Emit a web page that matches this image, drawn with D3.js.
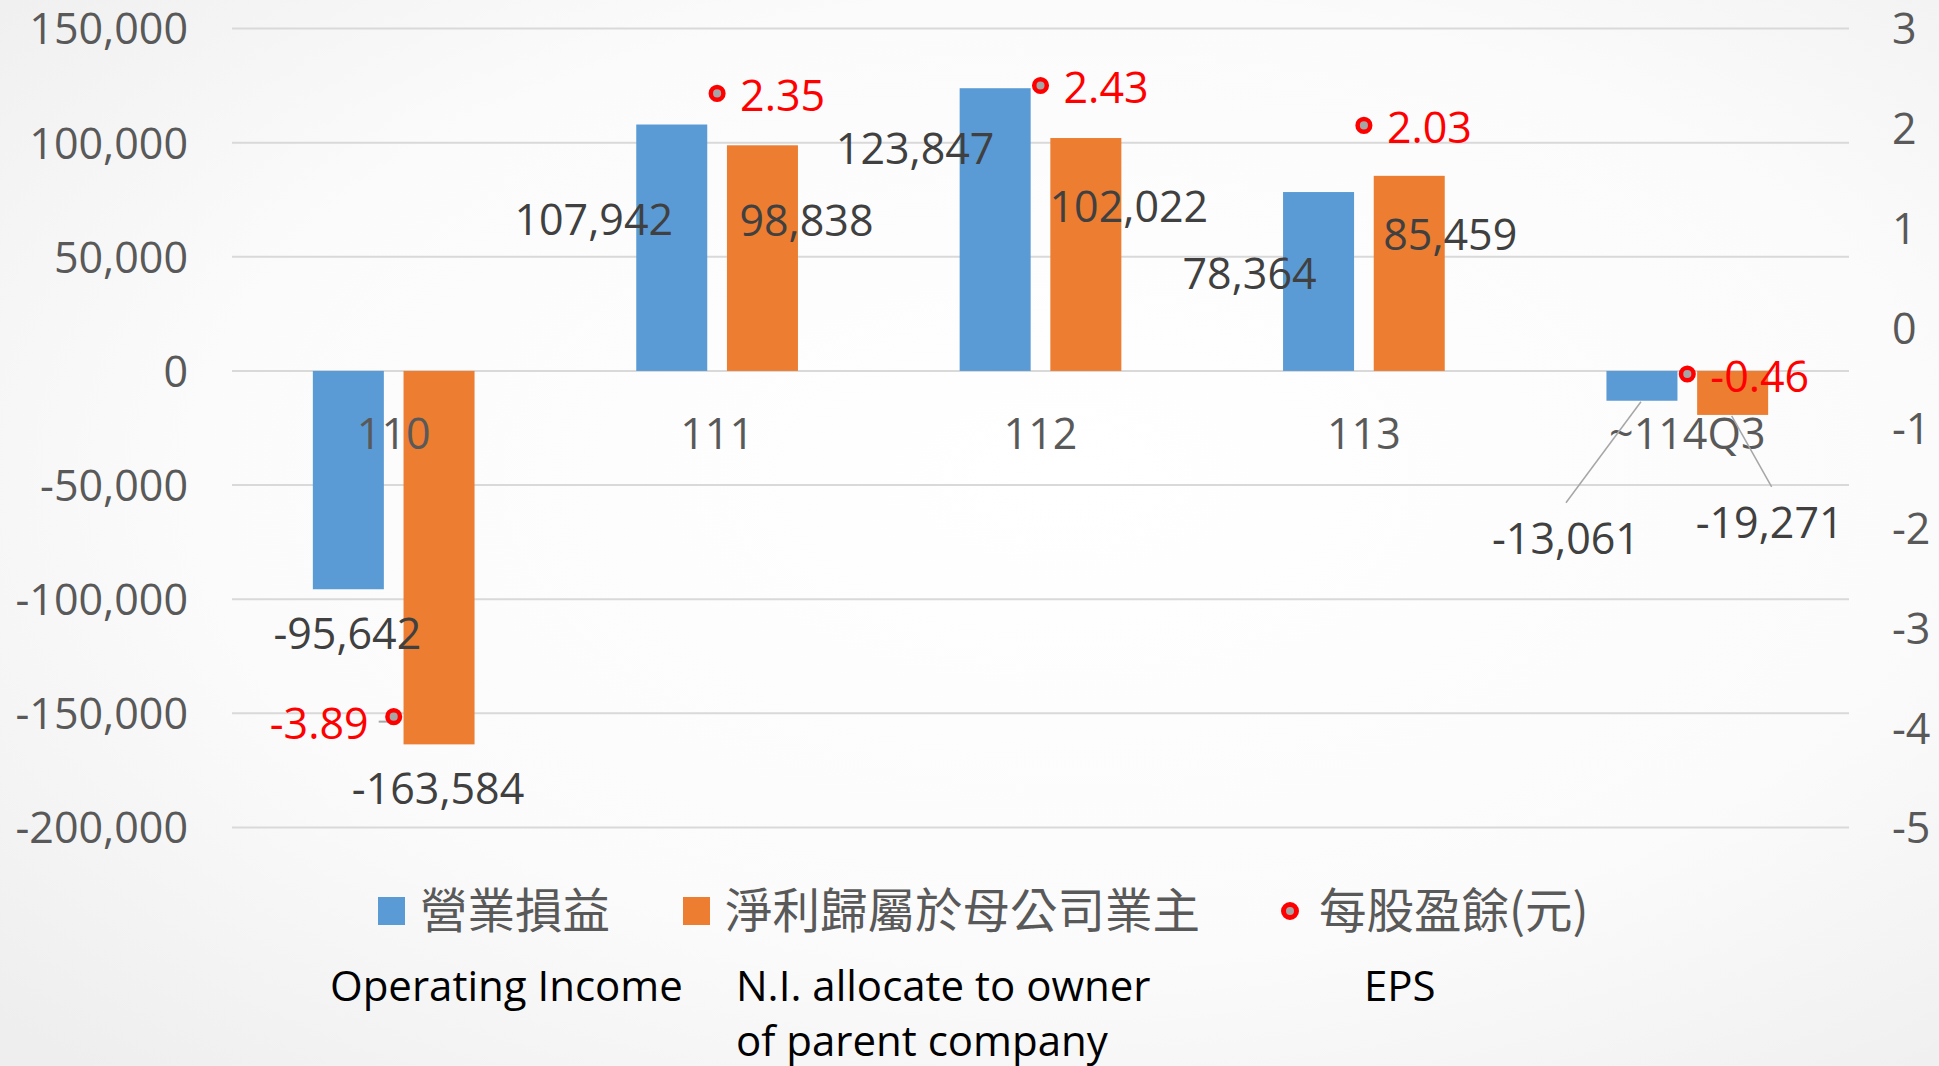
<!DOCTYPE html>
<html>
<head>
<meta charset="utf-8" />
<script src="https://d3js.org/d3.v7.min.js"></script>
<style>
  body {
    margin: 0;
    font-family: "Open Sans", "Noto Sans CJK TC", sans-serif;
  }
</style>
</head>
<body>
<div id="container"></div>
<script>
  // DATA
  const categories = ["110", "111", "112", "113", "~114Q3"];
  const operatingIncome = [-95642, 107942, 123847, 78364, -13061];
  const netIncomeParent = [-163584, 98838, 102022, 85459, -19271];
  const eps = [-3.89, 2.35, 2.43, 2.03, -0.46];
  const leftTicks = [-200000, -150000, -100000, -50000, 0, 50000, 100000, 150000];
  const rightTicks = [-5, -4, -3, -2, -1, 0, 1, 2, 3];
  const legendNames = ["營業損益", "淨利歸屬於母公司業主", "每股盈餘(元)"];
  const legendEnglish = [["Operating Income"], ["N.I. allocate to owner", "of parent company"], ["EPS"]];

  // label nudges (pixels, from bar end) - labels were hand placed in the original
  const opLabelShift = [[-1, 44], [-78, 95], [-80, 60], [-69, 81], [-76, 138]];
  const niLabelShift = [[-1, 44], [44, 75], [43, 68], [41, 59], [37, 108]];

  const W = 1939, H = 1066;
  const plotLeft = 232, plotRight = 1849, plotTop = 28.5, plotBottom = 827.5;
  const numSize = "43px";

  const fmt = d3.formatLocale({ decimal: ".", thousands: ",", grouping: [3], currency: ["", ""], minus: "-" });
  const numFmt = fmt.format(",");
  const epsFmt = fmt.format(".2f");

  const svg = d3.select("#container").append("svg")
    .attr("width", W).attr("height", H);

  // background
  const defs = svg.append("defs");
  const grad = defs.append("radialGradient").attr("id", "bg")
    .attr("cx", "55%").attr("cy", "45%").attr("r", "75%");
  grad.append("stop").attr("offset", "0%").attr("stop-color", "#ffffff");
  grad.append("stop").attr("offset", "60%").attr("stop-color", "#fbfbfb");
  grad.append("stop").attr("offset", "100%").attr("stop-color", "#eeeeee");
  svg.append("rect").attr("width", W).attr("height", H).attr("fill", "url(#bg)");

  // SCALES
  const yL = d3.scaleLinear().domain([-200000, 150000]).range([plotBottom, plotTop]);
  const yR = d3.scaleLinear().domain([-5, 3]).range([plotBottom, plotTop]);
  const x0 = d3.scaleBand().domain(categories).range([plotLeft, plotRight]);
  const bw = x0.bandwidth();
  const x1 = d3.scaleBand().domain([0, 1]).range([0.25 * bw, 0.75 * bw]).paddingInner(0.217);

  // GRIDLINES
  svg.append("g").selectAll("line").data(leftTicks).enter().append("line")
    .attr("x1", plotLeft).attr("x2", plotRight)
    .attr("y1", d => yL(d)).attr("y2", d => yL(d))
    .attr("stroke", "#d9d9d9").attr("stroke-width", 2);

  // AXES
  const axL = svg.append("g").attr("transform", "translate(" + plotLeft + ",0)")
    .call(d3.axisLeft(yL).tickValues(leftTicks).tickSize(0).tickPadding(44).tickFormat(numFmt));
  const axR = svg.append("g").attr("transform", "translate(" + plotRight + ",0)")
    .call(d3.axisRight(yR).tickValues(rightTicks).tickSize(0).tickPadding(43).tickFormat(fmt.format("d")));
  [axL, axR].forEach(a => {
    a.select(".domain").remove();
    a.selectAll("text")
      .style("font-family", "Open Sans").style("font-size", numSize)
      .attr("fill", "#595959").attr("dy", "0.36em");
  });

  // BARS
  const series = [
    { values: operatingIncome, color: "#5b9bd5", shift: opLabelShift },
    { values: netIncomeParent, color: "#ed7d31", shift: niLabelShift }
  ];

  series.forEach((s, si) => {
    svg.append("g").selectAll("rect").data(s.values).enter().append("rect")
      .attr("x", (d, i) => x0(categories[i]) + x1(si))
      .attr("width", x1.bandwidth())
      .attr("y", d => yL(Math.max(0, d)))
      .attr("height", d => Math.abs(yL(d) - yL(0)))
      .attr("fill", s.color);
  });

  // CATEGORY LABELS
  svg.append("g").selectAll("text").data(categories).enter().append("text")
    .attr("x", d => x0(d) + bw / 2)
    .attr("y", yL(0) + 63)
    .attr("dy", "0.36em")
    .attr("text-anchor", "middle")
    .style("font-size", numSize)
    .attr("fill", "#595959")
    .text(d => d);

  // BAR LABELS + leader lines
  series.forEach((s, si) => {
    const cx = i => x0(categories[i]) + x1(si) + x1.bandwidth() / 2;
    const g = svg.append("g");
    s.values.forEach((v, i) => {
      const lx = cx(i) + s.shift[i][0];
      const ly = yL(v) + s.shift[i][1];
      if (i === 4) {
        g.append("line")
          .attr("x1", cx(i) - 1).attr("y1", yL(v) + 1)
          .attr("x2", lx + (si === 0 ? 0 : 2)).attr("y2", ly - 36)
          .attr("stroke", "#a6a6a6").attr("stroke-width", 1.5);
      }
      g.append("text")
        .attr("x", lx).attr("y", ly).attr("dy", "0.36em")
        .attr("text-anchor", "middle")
        .style("font-size", numSize)
        .attr("fill", "#404040")
        .text(numFmt(v));
    });
  });

  // EPS MARKERS
  const epsG = svg.append("g");
  eps.forEach((v, i) => {
    const cx = x0(categories[i]) + bw / 2;
    const cy = yR(v);
    if (i === 0) {
      epsG.append("line")
        .attr("x1", cx - 15).attr("x2", cx)
        .attr("y1", cy + 5).attr("y2", cy + 5)
        .attr("stroke", "#a6a6a6").attr("stroke-width", 2);
    }
    epsG.append("circle")
      .attr("cx", cx).attr("cy", cy).attr("r", 6.3)
      .attr("fill", "#a5a5a5").attr("stroke", "#ff0000").attr("stroke-width", 4.5);
    epsG.append("text")
      .attr("x", i === 0 ? cx - 25 : cx + 23)
      .attr("y", cy + (i === 0 ? 7 : 2))
      .attr("dy", "0.36em")
      .attr("text-anchor", i === 0 ? "end" : "start")
      .style("font-size", numSize)
      .attr("fill", "#ff0000")
      .text(epsFmt(v));
  });

  // LEGEND
  const legendX = [378, 683, 1290];
  const legendY = 911;
  const leg = svg.append("g");
  legendNames.forEach((name, i) => {
    if (i < 2) {
      leg.append("rect")
        .attr("x", legendX[i]).attr("y", legendY - 14)
        .attr("width", 27).attr("height", 28)
        .attr("fill", series[i].color);
    } else {
      leg.append("circle")
        .attr("cx", legendX[i]).attr("cy", legendY).attr("r", 6.5)
        .attr("fill", "#a5a5a5").attr("stroke", "#ff0000").attr("stroke-width", 5);
    }
    leg.append("text")
      .attr("x", legendX[i] + (i < 2 ? 42 : 29))
      .attr("y", legendY).attr("dy", "0.36em")
      .style("font-family", "Noto Sans CJK TC")
      .style("font-size", "47.5px")
      .attr("fill", "#595959")
      .text(name);
  });

  const engX = [330, 736, 1364];
  legendEnglish.forEach((lines, i) => {
    lines.forEach((t, j) => {
      leg.append("text")
        .attr("x", engX[i]).attr("y", 986 + j * 55).attr("dy", "0.36em")
        .style("font-size", "42px")
        .attr("fill", "#000000")
        .text(t);
    });
  });
</script>
</body>
</html>
